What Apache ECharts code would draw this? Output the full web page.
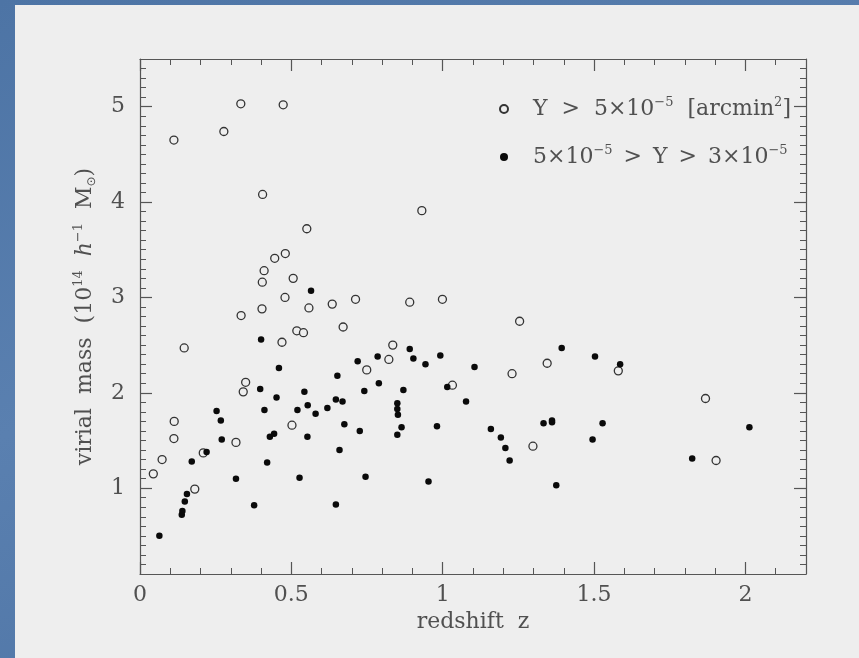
<!DOCTYPE html>
<html>
<head>
<meta charset="utf-8">
<script src="https://cdn.jsdelivr.net/npm/echarts@6/dist/echarts.min.js"></script>
<style>
  html, body { margin: 0; padding: 0; }
  body {
    width: 859px; height: 658px; overflow: hidden; position: relative;
    background: linear-gradient(160deg, #4d74a5 0%, #5a80b0 45%, #4b71a2 100%);
  }
  #chart {
    position: absolute; left: 15px; top: 5px; width: 844px; height: 653px;
    background: #eeeeee;
  }
</style>
</head>
<body>
<div id="chart"></div>
<script>
// Clusters above the brighter flux cut: [redshift z, virial mass in 1e14 h^-1 Msun]
const brightClusters = [
  [0.044, 1.15], [0.073, 1.30], [0.112, 1.52], [0.113, 1.70], [0.112, 4.65],
  [0.146, 2.47], [0.181, 0.99], [0.209, 1.37], [0.277, 4.74], [0.317, 1.48],
  [0.333, 5.03], [0.334, 2.81], [0.341, 2.01], [0.349, 2.11], [0.403, 2.88],
  [0.404, 3.16], [0.405, 4.08], [0.410, 3.28], [0.445, 3.41], [0.469, 2.53],
  [0.473, 5.02], [0.479, 3.00], [0.480, 3.46], [0.502, 1.66], [0.506, 3.20],
  [0.518, 2.65], [0.540, 2.63], [0.551, 3.72], [0.558, 2.89], [0.635, 2.93],
  [0.671, 2.69], [0.712, 2.98], [0.749, 2.24], [0.822, 2.35], [0.835, 2.50],
  [0.891, 2.95], [0.931, 3.91], [0.999, 2.98], [1.032, 2.08], [1.229, 2.20],
  [1.254, 2.75], [1.298, 1.44], [1.345, 2.31], [1.580, 2.23], [1.868, 1.94],
  [1.903, 1.29]
];

// Clusters between the two flux cuts
const faintClusters = [
  [0.064, 0.50], [0.138, 0.72], [0.140, 0.76], [0.148, 0.86], [0.155, 0.94],
  [0.171, 1.28], [0.220, 1.38], [0.253, 1.81], [0.267, 1.71], [0.270, 1.51],
  [0.317, 1.10], [0.377, 0.82], [0.397, 2.04], [0.400, 2.56], [0.411, 1.82],
  [0.420, 1.27], [0.429, 1.54], [0.443, 1.57], [0.451, 1.95], [0.459, 2.26],
  [0.520, 1.82], [0.527, 1.11], [0.543, 2.01], [0.553, 1.54], [0.554, 1.87],
  [0.565, 3.07], [0.580, 1.78], [0.619, 1.84], [0.647, 1.93], [0.647, 0.83],
  [0.652, 2.18], [0.659, 1.40], [0.669, 1.91], [0.675, 1.67], [0.719, 2.33],
  [0.726, 1.60], [0.741, 2.02], [0.745, 1.12], [0.785, 2.38], [0.789, 2.10],
  [0.850, 1.89], [0.850, 1.83], [0.852, 1.77], [0.864, 1.64], [0.850, 1.56],
  [0.870, 2.03], [0.891, 2.46], [0.903, 2.36], [0.943, 2.30], [0.953, 1.07],
  [0.981, 1.65], [0.992, 2.39], [1.015, 2.06], [1.077, 1.91], [1.105, 2.27],
  [1.159, 1.62], [1.192, 1.53], [1.207, 1.42], [1.221, 1.29], [1.333, 1.68],
  [1.361, 1.71], [1.361, 1.69], [1.375, 1.03], [1.393, 2.47], [1.495, 1.51],
  [1.503, 2.38], [1.528, 1.68], [1.586, 2.30], [1.824, 1.31], [2.013, 1.64]
];

// Axis ranges and labelled tick positions
const xRange = [0, 2.2];
const yRange = [0.1, 5.5];
const xMajorTicks = [0, 0.5, 1, 1.5, 2];
const yMajorTicks = [1, 2, 3, 4, 5];
const minorStep = 0.1;

const legendNames = ['bright', 'faint'];
const legendTexts = {
  bright: 'Y  >  5×10{sup|−5}  [arcmin{sup|2}]',
  faint: '5×10{sup|−5}\u2002>\u2002Y\u2002>\u20023×10{sup|−5}'
};

const FONT = 'DejaVu Serif';
const INK = '#505050';
const AXIS = '#555555';

const chart = echarts.init(document.getElementById('chart'), null, { renderer: 'canvas' });

function fmt(v) {
  return String(Math.round(v * 10) / 10);
}

function xAxisDef(position, major, labels) {
  return {
    type: 'value', position: position, min: xRange[0], max: xRange[1],
    interval: minorStep,
    axisLine: { show: !major, onZero: false, lineStyle: { color: AXIS, width: 1.2 } },
    axisTick: major
      ? { show: true, inside: true, length: 12, customValues: xMajorTicks, lineStyle: { color: AXIS, width: 1.2 } }
      : { show: true, inside: true, length: 6, lineStyle: { color: AXIS, width: 1 } },
    axisLabel: labels
      ? { show: true, customValues: xMajorTicks, formatter: fmt, margin: 10,
          fontFamily: FONT, fontSize: 22, color: INK }
      : { show: false },
    splitLine: { show: false },
    name: labels ? 'redshift  z' : '',
    nameLocation: 'middle', nameGap: 30,
    nameTextStyle: { fontFamily: FONT, fontSize: 22, color: INK }
  };
}

function yAxisDef(position, major, labels) {
  return {
    type: 'value', position: position, min: yRange[0], max: yRange[1],
    interval: minorStep,
    axisLine: { show: !major, onZero: false, lineStyle: { color: AXIS, width: 1.2 } },
    axisTick: major
      ? { show: true, inside: true, length: 12, customValues: yMajorTicks, lineStyle: { color: AXIS, width: 1.2 } }
      : { show: true, inside: true, length: 6, lineStyle: { color: AXIS, width: 1 } },
    axisLabel: labels
      ? { show: true, customValues: yMajorTicks, formatter: fmt, margin: 15,
          fontFamily: FONT, fontSize: 22, color: INK }
      : { show: false },
    splitLine: { show: false },
    name: labels ? 'virial  mass  (10{sup|14}  {it|h}{sup|−1}  M{sub|⊙})' : '',
    nameLocation: 'middle', nameGap: 42, nameRotate: 90,
    nameTextStyle: {
      fontFamily: FONT, fontSize: 22, color: INK, lineHeight: 26,
      rich: {
        sup: { fontFamily: FONT, fontSize: 13, color: INK, verticalAlign: 'top', lineHeight: 26 },
        sub: { fontFamily: 'DejaVu Sans', fontSize: 12, color: INK, verticalAlign: 'bottom', lineHeight: 24 },
        it: { fontFamily: FONT, fontStyle: 'italic', fontSize: 22, color: INK }
      }
    }
  };
}

chart.setOption({
  animation: false,
  backgroundColor: 'transparent',
  grid: { left: 125, right: 53, top: 54, bottom: 84, containLabel: false },
  legend: {
    data: legendNames,
    orient: 'vertical',
    left: 484, top: 91,
    padding: 0,
    itemWidth: 8, itemHeight: 8,
    itemGap: 22,
    formatter: (name) => legendTexts[name],
    textStyle: {
      fontFamily: FONT, fontSize: 22, color: INK, lineHeight: 26,
      padding: [0, 0, 0, 20],
      rich: {
        sup: { fontFamily: FONT, fontSize: 13, color: INK, verticalAlign: 'top', lineHeight: 24 }
      }
    }
  },
  xAxis: [
    xAxisDef('bottom', false, true),
    xAxisDef('bottom', true, false),
    xAxisDef('top', false, false),
    xAxisDef('top', true, false)
  ],
  yAxis: [
    yAxisDef('left', false, true),
    yAxisDef('left', true, false),
    yAxisDef('right', false, false),
    yAxisDef('right', true, false)
  ],
  series: [
    {
      name: 'bright', type: 'scatter', xAxisIndex: 0, yAxisIndex: 0,
      symbol: 'circle', symbolSize: 8,
      itemStyle: { color: '#eeeeee', borderColor: '#333333', borderWidth: 1.3, opacity: 1 },
      data: brightClusters
    },
    {
      name: 'faint', type: 'scatter', xAxisIndex: 0, yAxisIndex: 0,
      symbol: 'circle', symbolSize: 6.5,
      itemStyle: { color: '#0a0a0a', opacity: 1 },
      data: faintClusters
    }
  ]
});
</script>
</body>
</html>
